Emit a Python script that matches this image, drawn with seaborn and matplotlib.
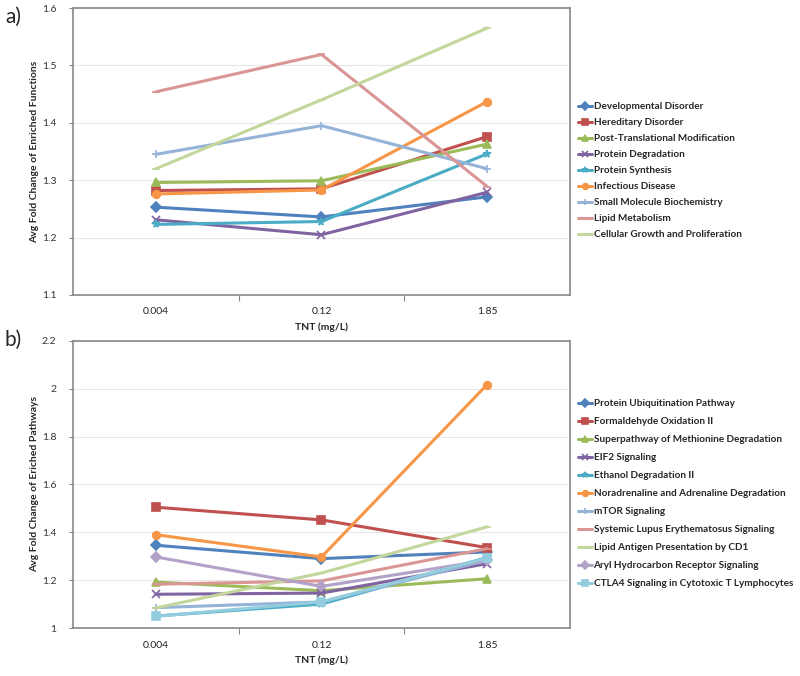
import numpy as np
import pandas as pd
import matplotlib
matplotlib.use("Agg")
import matplotlib.pyplot as plt
import seaborn as sns

# doses on the x axis (categorical)
doses = ["0.004", "0.12", "1.85"]

# panel a: enriched functions
functions = [
    "Developmental Disorder",
    "Hereditary Disorder",
    "Post-Translational Modification",
    "Protein Degradation",
    "Protein Synthesis",
    "Infectious Disease",
    "Small Molecule Biochemistry",
    "Lipid Metabolism",
    "Cellular Growth and Proliferation",
]
function_values = [
    [1.253, 1.236, 1.271],
    [1.282, 1.285, 1.376],
    [1.296, 1.299, 1.363],
    [1.231, 1.205, 1.279],
    [1.223, 1.228, 1.346],
    [1.276, 1.283, 1.437],
    [1.345, 1.395, 1.320],
    [1.454, 1.519, 1.289],
    [1.320, 1.440, 1.565],
]

# panel b: enriched pathways
pathways = [
    "Protein Ubiquitination Pathway",
    "Formaldehyde Oxidation II",
    "Superpathway of Methionine Degradation",
    "EIF2 Signaling",
    "Ethanol Degradation II",
    "Noradrenaline and Adrenaline Degradation",
    "mTOR Signaling",
    "Systemic Lupus Erythematosus Signaling",
    "Lipid Antigen Presentation by CD1",
    "Aryl Hydrocarbon Receptor Signaling",
    "CTLA4 Signaling in Cytotoxic T Lymphocytes",
]
pathway_values = [
    [1.346, 1.290, 1.318],
    [1.505, 1.452, 1.336],
    [1.192, 1.156, 1.206],
    [1.141, 1.146, 1.269],
    [1.050, 1.100, 1.295],
    [1.390, 1.297, 2.018],
    [1.085, 1.109, 1.283],
    [1.183, 1.197, 1.332],
    [1.084, 1.230, 1.423],
    [1.297, 1.174, 1.283],
    [1.049, 1.109, 1.293],
]

# Excel-like series colours and markers
colors = ["#4F81BD", "#C0504D", "#9BBB59", "#8064A2", "#4BACC6", "#F79646",
          "#95B3D7", "#D99694", "#C3D69B", "#B3A2C7", "#93CDDD"]
markers = ["D", "s", "^", "x", "*", "o", "+", "_", "_", "D", "s"]

sns.set_style("white")
plt.rcParams["font.family"] = ["Lato", "DejaVu Sans"]

fig = plt.figure(figsize=(8, 6.76), dpi=100)
W, H = 800, 676


def draw_panel(ax, names, values, ylim, yticks, ylabel, legend_top, spacing):
    for i, (name, vals) in enumerate(zip(names, values)):
        df = pd.DataFrame({"TNT": doses, "val": vals})
        sns.lineplot(data=df, x="TNT", y="val", ax=ax, sort=False,
                     color=colors[i], marker=markers[i], markersize=5.5,
                     markeredgecolor=colors[i], markeredgewidth=1.2,
                     linewidth=2.2, label=name)
    ax.set_xlim(-0.5, 2.5)
    ax.set_ylim(*ylim)
    ax.set_yticks(yticks)
    ax.set_yticklabels([f"{t:g}" for t in yticks])
    ax.set_xticks([0, 1, 2])
    ax.set_xticklabels(doses)
    ax.set_xticks([0.5, 1.5], minor=True)
    ax.tick_params(axis="x", which="major", length=0, pad=9, labelsize=7.5, colors="#222222")
    ax.tick_params(axis="x", which="minor", length=4, width=0.8, color="#888888", direction="out", bottom=True)
    ax.tick_params(axis="y", length=3, width=0.8, color="#888888", direction="out", left=True,
                   pad=9, labelsize=7.5, labelcolor="#333333")
    ax.grid(axis="y", color="#e8e8e8", linewidth=0.8)
    ax.set_axisbelow(True)
    for s in ax.spines.values():
        s.set_color("#888888")
        s.set_linewidth(1.2)
    ax.set_xlabel("TNT (mg/L)", fontsize=7.5, fontweight="bold")
    ax.xaxis.set_label_coords(0.5, -0.095)
    ax.set_ylabel(ylabel, fontsize=7.5, fontweight="bold")
    ax.yaxis.set_label_coords(-0.068, 0.5)
    ax.legend(loc="upper left", bbox_to_anchor=(578 / W, 1 - legend_top / H),
              bbox_transform=fig.transFigure, frameon=False,
              prop={"weight": "bold", "size": 7.2}, handlelength=1.4,
              handletextpad=0.15, labelspacing=spacing, markerscale=0.75,
              borderaxespad=0, borderpad=0)


ax_a = fig.add_axes([73 / W, 1 - 295 / H, 497 / W, 287 / H])
draw_panel(ax_a, functions, function_values, (1.1, 1.6),
           [1.1, 1.2, 1.3, 1.4, 1.5, 1.6],
           "Avg Fold Change of Enriched Functions", 102, 0.7)

ax_b = fig.add_axes([73 / W, 1 - 628 / H, 497 / W, 287 / H])
draw_panel(ax_b, pathways, pathway_values, (1.0, 2.2),
           [1.0, 1.2, 1.4, 1.6, 1.8, 2.0, 2.2],
           "Avg Fold Change of Eriched Pathways", 399, 0.9)

fig.text(5 / W, 1 - 17 / H, "a)", fontsize=15, va="center", ha="left")
fig.text(5 / W, 1 - 340 / H, "b)", fontsize=15, va="center", ha="left")

fig.savefig("out.png", dpi=100)
